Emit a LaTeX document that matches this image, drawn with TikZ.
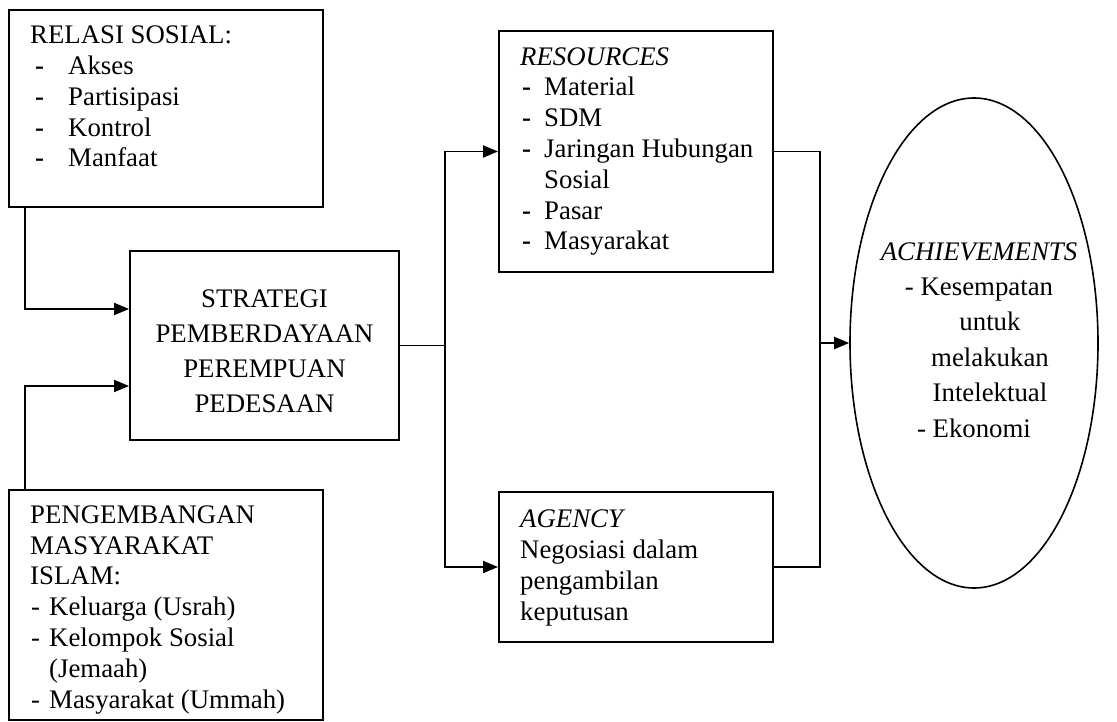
\documentclass[tikz,border=0pt]{standalone}
\usepackage{fontspec}
\setmainfont{Liberation Serif}
\usetikzlibrary{arrows.meta,shapes.geometric}
\newcommand\dashA{\makebox[38pt][l]{\hspace{5pt}\textbf{-}}}
\newcommand\dashB{\makebox[19pt][l]{\hspace{1pt}-}}
\newcommand\dashC{\makebox[24pt][l]{\hspace{2pt}\textbf{-}}}
\tikzset{
  boxshape/.style={draw, line width=1.9pt, rectangle, inner sep=0pt},
  txt/.style={inner sep=0pt, anchor=base west, align=left, font=\fontsize{26.8}{30.8}\selectfont},
  ctxt/.style={inner sep=0pt, anchor=base, align=center},
  conn/.style={line width=1.9pt},
  arr/.style={line width=1.9pt, -{Triangle[length=15pt,width=12pt]}}
}
\begin{document}
\begin{tikzpicture}[x=1pt,y=-1pt]
\useasboundingbox (0,0) rectangle (1117,722);
% boxes
\node[boxshape, minimum width=314pt, minimum height=197pt] (rel) at (166,108.5) {};
\node[boxshape, minimum width=314pt, minimum height=230pt] (peng) at (166,605) {};
\node[boxshape, minimum width=269pt, minimum height=189pt] (strat) at (264.5,345.5) {};
\node[boxshape, minimum width=274pt, minimum height=241pt] (res) at (636,151.5) {};
\node[boxshape, minimum width=274pt, minimum height=150pt] (ag) at (636,567) {};
\node[draw, line width=1.6pt, ellipse, inner sep=0pt, minimum width=248pt, minimum height=490pt] (ach) at (974,343) {};
% texts (anchored at the baseline of the last line)
\node[txt] (reltext) at (30,167) {RELASI SOSIAL:\\\dashA Akses\\\dashA Partisipasi\\\dashA Kontrol\\\dashA Manfaat};
\node[txt] (pengtext) at (30,708) {PENGEMBANGAN\\MASYARAKAT\\ISLAM:\\\dashB Keluarga (Usrah)\\\dashB Kelompok Sosial\\\hspace*{19pt}(Jemaah)\\\dashB Masyarakat (Ummah)};
\node[ctxt, font=\fontsize{26.8}{35}\selectfont] (strattext) at (264.5,412) {STRATEGI\\PEMBERDAYAAN\\PEREMPUAN\\PEDESAAN};
\node[txt] (restext) at (520,250) {\textit{RESOURCES}\\\dashC Material\\\dashC SDM\\\dashC Jaringan Hubungan\\\hspace*{24pt}Sosial\\\dashC Pasar\\\dashC Masyarakat};
\node[txt] (agtext) at (520,620) {\textit{AGENCY}\\Negosiasi dalam\\pengambilan\\keputusan};
\node[ctxt, font=\fontsize{26.8}{35.4}\selectfont] (achtext) at (979,437) {\textit{ACHIEVEMENTS}\\- Kesempatan\\\hspace*{22pt}untuk\\\hspace*{22pt}melakukan\\\hspace*{22pt}Intelektual\\- Ekonomi\hspace*{10pt}};
% connectors
\draw[arr] ([xshift=17pt]rel.south west) |- ([yshift=36.5pt]strat.west);
\draw[arr] ([xshift=17pt]peng.north west) |- ([yshift=-40.5pt]strat.west);
\coordinate (split) at (445,345.5);
\coordinate (join) at (820,343);
\draw[conn] (strat.east) -- (split);
\draw[arr] (split) |- (res.west);
\draw[arr] (split) |- (ag.west);
\draw[conn] (res.east) -| (join);
\draw[conn] (ag.east) -| (join);
\draw[arr] (join) -- (ach.west);
\end{tikzpicture}
\end{document}
